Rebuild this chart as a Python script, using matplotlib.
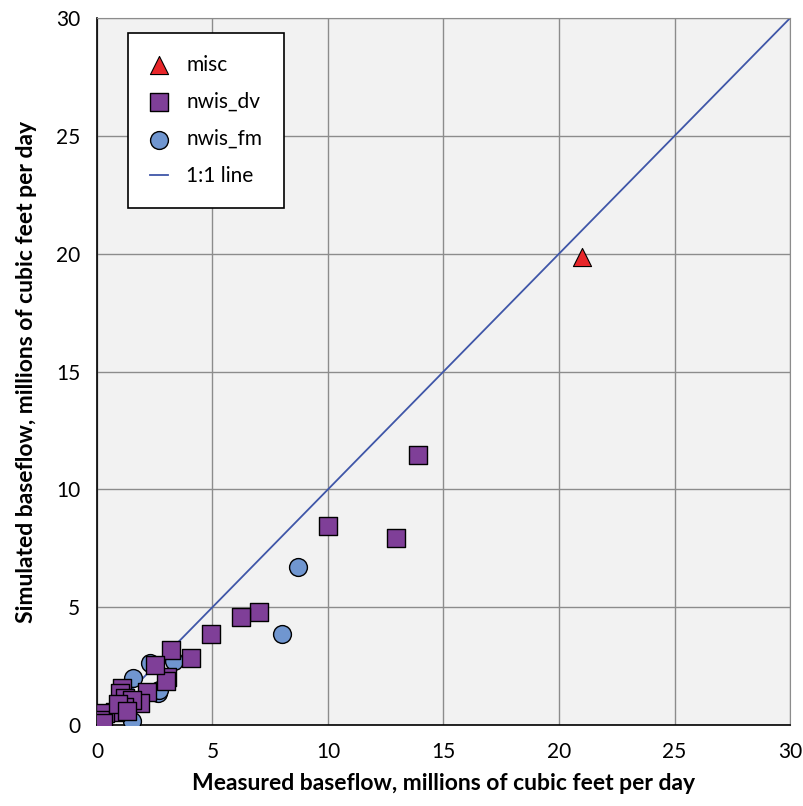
import matplotlib
matplotlib.use("Agg")
import matplotlib.pyplot as plt

plt.rcParams['font.family'] = ['Lato', 'DejaVu Sans']

# Measured vs simulated baseflow, millions of cubic feet per day
misc_x = [21.0]
misc_y = [19.85]

dv_x = [13.9, 10.0, 12.95, 7.0, 6.25, 4.95, 4.05, 3.2, 3.05, 3.0, 2.5, 2.15,
        1.1, 1.0, 1.2, 1.85, 1.5, 1.15, 0.8, 0.35, 0.15, 0.25, 0.9, 1.3]
dv_y = [11.45, 8.45, 7.95, 4.8, 4.6, 3.85, 2.85, 3.2, 2.05, 1.85, 2.55, 1.4,
        1.55, 1.35, 1.15, 0.95, 1.05, 0.75, 0.55, 0.5, 0.2, 0.1, 0.9, 0.6]

fm_x = [8.7, 8.0, 2.3, 3.35, 1.55, 2.65, 1.5, 2.7]
fm_y = [6.7, 3.85, 2.65, 2.7, 2.0, 1.35, 0.15, 1.5]

one_to_one = [0, 30]
ticks = [0, 5, 10, 15, 20, 25, 30]

fig = plt.figure(figsize=(8.04, 8.06), dpi=100)
ax = fig.add_axes([0.1206, 0.1005, 0.862, 0.877])
ax.set_facecolor('#f2f2f2')

ax.plot(one_to_one, one_to_one, color='#3f56a8', lw=1.3, label='1:1 line', zorder=2)
ax.scatter(fm_x, fm_y, s=165, marker='o', facecolor='#7096d0', edgecolor='black',
           linewidth=1.0, label='nwis_fm', zorder=3)
ax.scatter(dv_x, dv_y, s=165, marker='s', facecolor='#7f3f98', edgecolor='black',
           linewidth=1.0, label='nwis_dv', zorder=4)
ax.scatter(misc_x, misc_y, s=170, marker='^', facecolor='#e8262a', edgecolor='black',
           linewidth=0.8, label='misc', zorder=5)

ax.set_xlim(0, 30)
ax.set_ylim(0, 30)
ax.set_xticks(ticks)
ax.set_yticks(ticks)
ax.grid(True, color='#8c8c8c', lw=1.0)
ax.set_axisbelow(True)
ax.tick_params(length=0, labelsize=15, pad=12)
for s in ['top', 'right']:
    ax.spines[s].set_color('#8c8c8c')
for s in ['left', 'bottom']:
    ax.spines[s].set_color('black')
    ax.spines[s].set_linewidth(1.2)

ax.set_xlabel('Measured baseflow, millions of cubic feet per day', fontsize=16.5,
              fontweight='bold', labelpad=8)
ax.set_ylabel('Simulated baseflow, millions of cubic feet per day', fontsize=16.5,
              fontweight='bold', labelpad=14)

h, l = ax.get_legend_handles_labels()
order = [3, 2, 1, 0]
leg = ax.legend([h[i] for i in order], [l[i] for i in order],
                loc='upper left', bbox_to_anchor=(0.045, 0.979), borderaxespad=0,
                fontsize=15, frameon=True, fancybox=False, edgecolor='black',
                facecolor='white', framealpha=1, handlelength=0.85,
                handletextpad=0.9, labelspacing=0.82, borderpad=1.05,
                scatterpoints=1)
leg.get_frame().set_linewidth(1.2)

fig.savefig('out.png', dpi=100)
